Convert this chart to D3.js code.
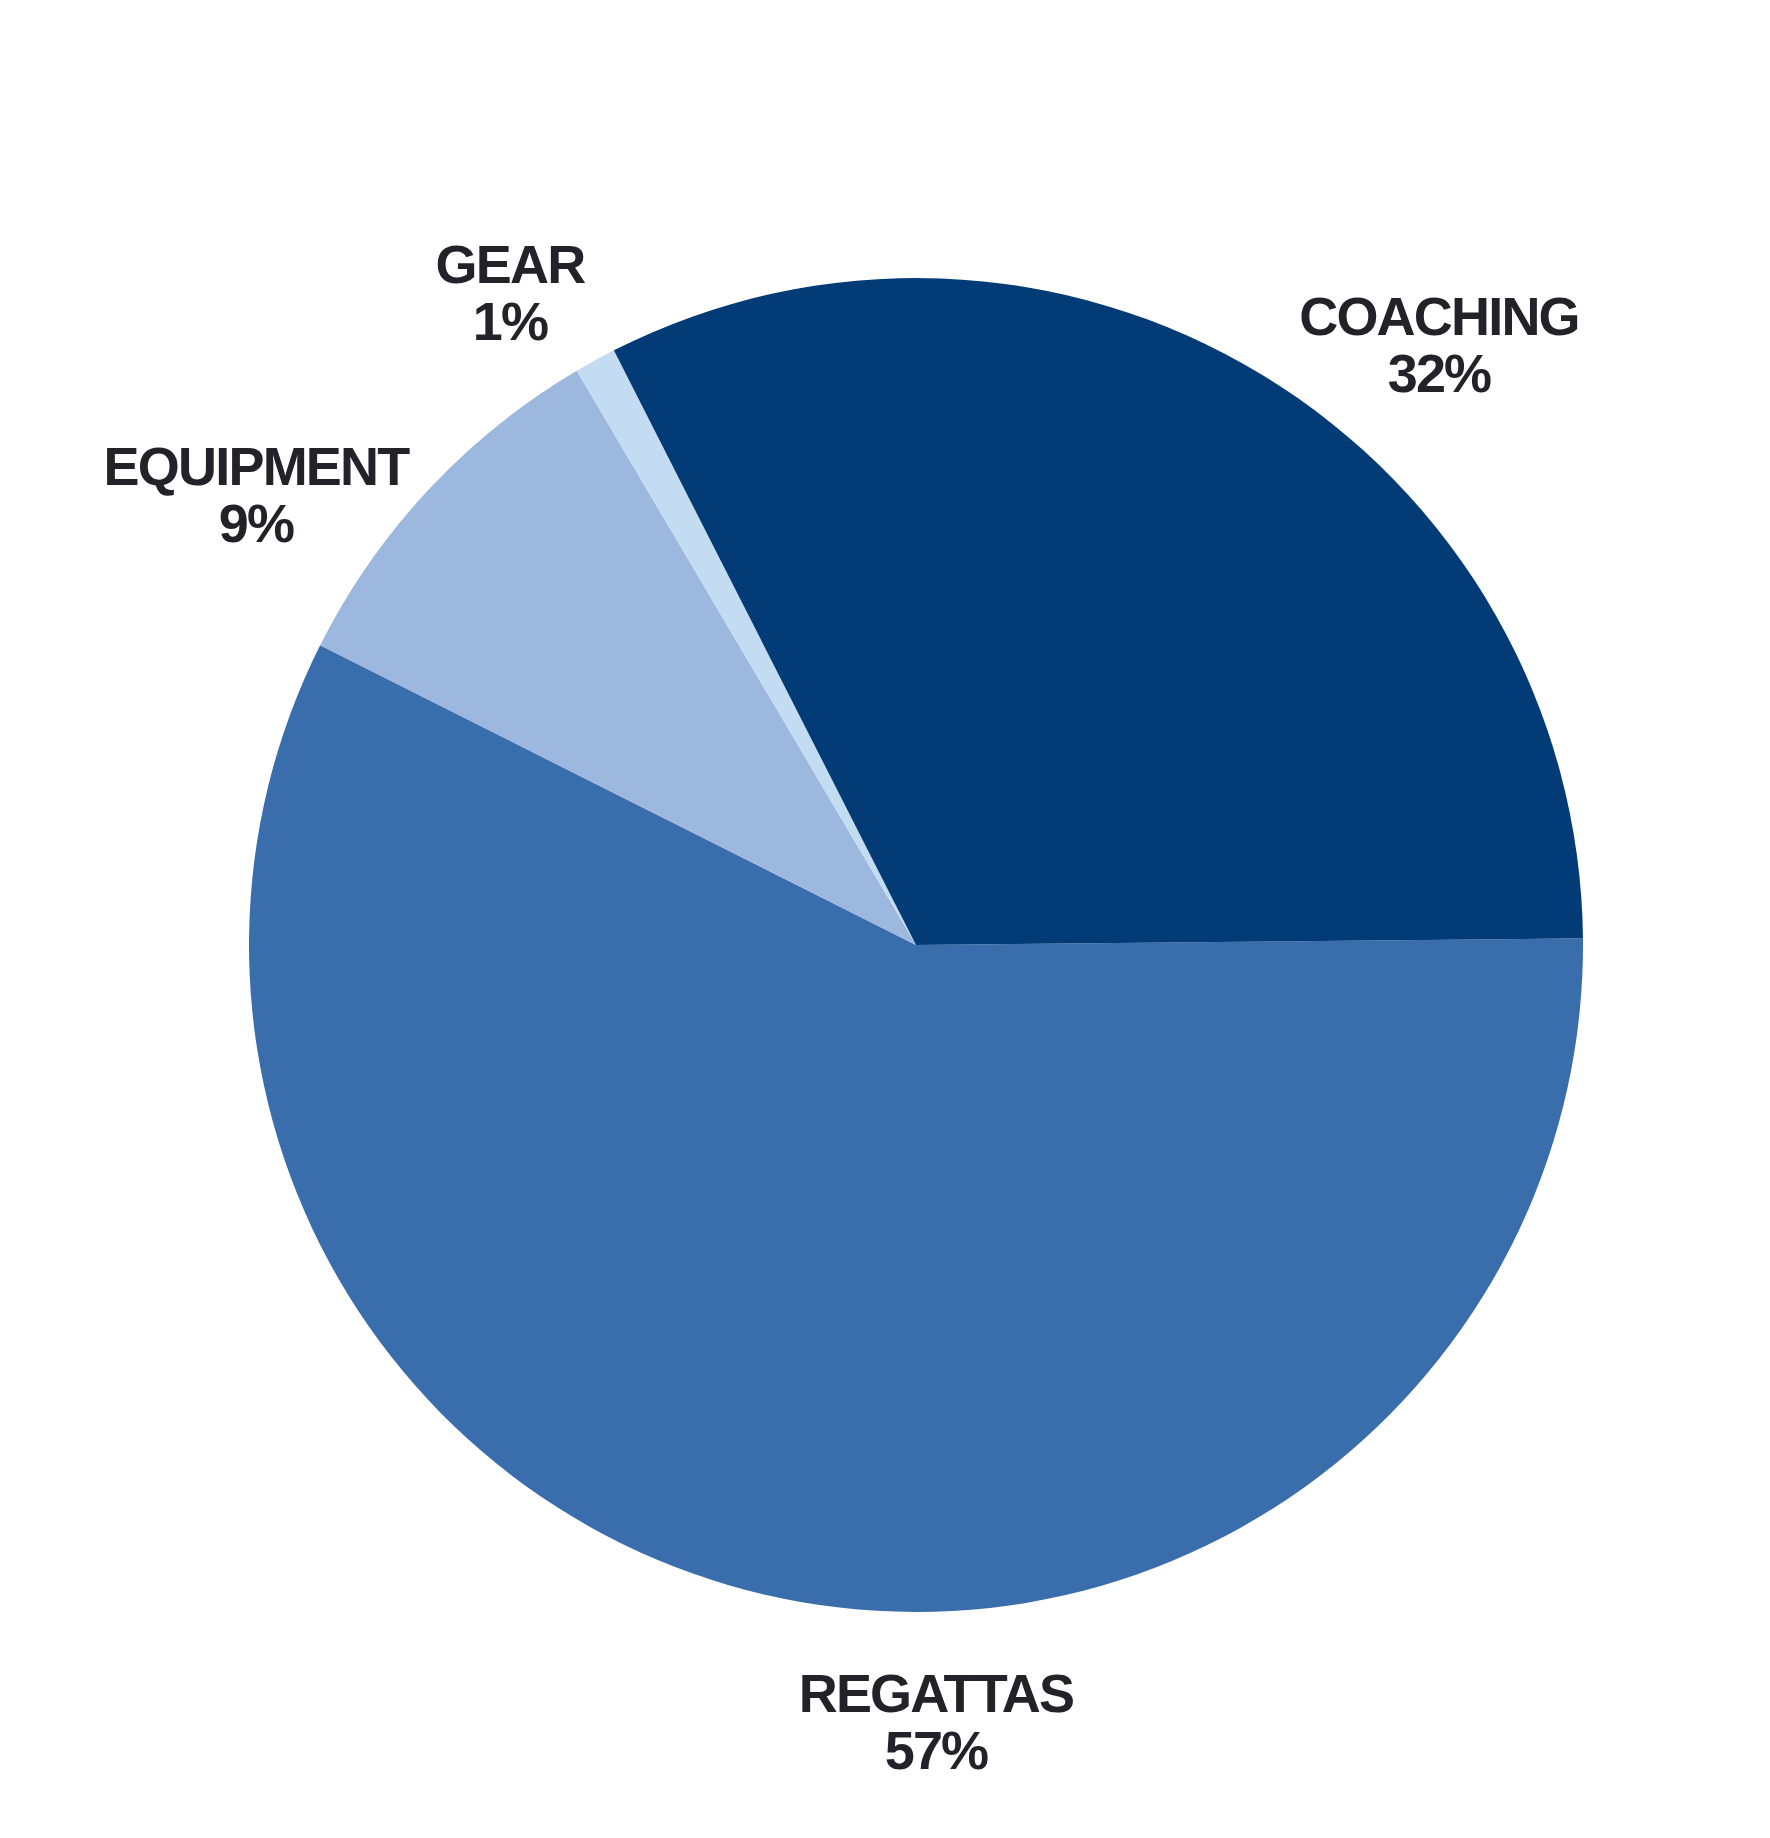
<!DOCTYPE html>
<html>
<head>
<meta charset="utf-8">
<script src="https://cdn.jsdelivr.net/npm/d3@7"></script>
<style>
  html, body { margin: 0; padding: 0; background: #ffffff; }
  svg { display: block; }
</style>
</head>
<body>
<div id="chart"></div>
<script>
// ---- Data ----
const categories = ["REGATTAS", "EQUIPMENT", "GEAR", "COACHING"];
const percents   = [57, 9, 1, 32];
const colors     = ["#3a6dab", "#9cb8de", "#c4dcf1", "#033b77"];

// ---- Layout ----
const W = 1770, H = 1838;
const cx = 916, cy = 945, R = 667;
// label anchor offsets from the pie centre (hand-placed in the original)
const labelOffsets = {
  "REGATTAS":  [20, 767],
  "EQUIPMENT": [-660, -460],
  "GEAR":      [-406, -662],
  "COACHING":  [523, -610]
};
const lineGap = 57;

const svg = d3.select("#chart").append("svg")
  .attr("width", W).attr("height", H);

const data = categories.map((c, i) => ({ name: c, value: percents[i], color: colors[i] }));

const start = Math.PI / 2 - 0.01;
const pie = d3.pie().sort(null).value(d => d.value)
  .startAngle(start).endAngle(start + 2 * Math.PI);
const arc = d3.arc().innerRadius(0).outerRadius(R);

const g = svg.append("g").attr("transform", `translate(${cx},${cy})`);
g.selectAll("path.slice")
  .data(pie(data))
  .join("path")
  .attr("class", "slice")
  .attr("d", arc)
  .attr("fill", d => d.data.color);

const labels = g.selectAll("g.label")
  .data(data)
  .join("g")
  .attr("class", "label")
  .attr("transform", d => `translate(${labelOffsets[d.name][0]},${labelOffsets[d.name][1]})`);

labels.append("text")
  .attr("text-anchor", "middle")
  .attr("font-family", "'Liberation Sans', Arial, sans-serif")
  .attr("font-weight", 700)
  .attr("font-size", 54)
  .attr("letter-spacing", -1.8)
  .attr("fill", "#232228")
  .text(d => d.name);

labels.append("text")
  .attr("text-anchor", "middle")
  .attr("y", lineGap)
  .attr("font-family", "'Liberation Sans', Arial, sans-serif")
  .attr("font-weight", 700)
  .attr("font-size", 54)
  .attr("letter-spacing", -1.8)
  .attr("fill", "#232228")
  .text(d => d.value + "%");
</script>
</body>
</html>
